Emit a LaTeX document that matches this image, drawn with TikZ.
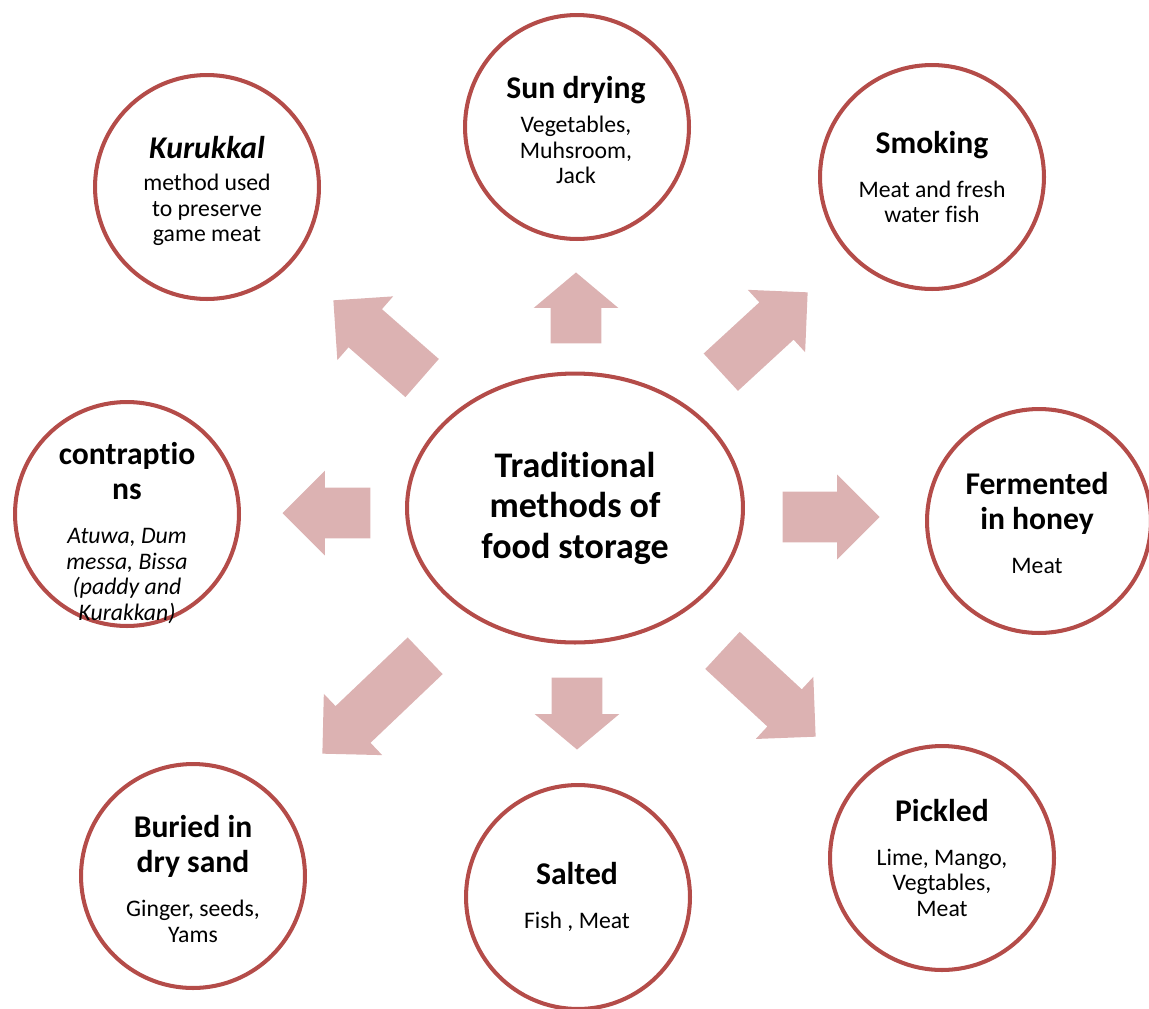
\documentclass[tikz,border=0pt]{standalone}
\usepackage{fontspec}
\setmainfont{Carlito}[Ligatures=NoCommon]
\usetikzlibrary{shapes.geometric,shapes.arrows}
\definecolor{ringred}{RGB}{180,76,73}
\definecolor{arrowpink}{RGB}{220,178,178}
\newcommand{\bodyfont}{\fontsize{13.5}{14.5}\selectfont}
\newcommand{\ttlfont}{\fontsize{18}{20}\selectfont\bfseries}
\newcommand{\ctrfont}{\fontsize{20.5}{23}\selectfont\bfseries}
\setlength{\parindent}{0pt}

\begin{document}
\begin{tikzpicture}[x=0.02cm,y=-0.02cm,
  ring/.style={circle,draw=ringred,line width=2.3pt,minimum size=4.48cm,inner sep=0pt},
  txt/.style={align=flush center,text width=4.4cm,inner sep=0pt,font=\bodyfont},
  blk/.style={single arrow,fill=arrowpink,draw=none,inner xsep=0pt,inner ysep=0.5cm,
    single arrow head extend=0.34cm,single arrow tip angle=90,anchor=tip}]
\useasboundingbox (0,0) rectangle (1149,1008);

% block arrows round the centre
\node[blk,rotate=90,minimum height=1.42cm,single arrow tip angle=100] (a-sun) at (576,272) {};
\node[blk,rotate=-90,minimum height=1.44cm,single arrow tip angle=100] (a-salt) at (577,750) {};
\node[blk,rotate=180,minimum height=1.76cm] (a-cont) at (282,513) {};
\node[blk,rotate=0,minimum height=1.94cm] (a-ferm) at (880,517) {};
\node[blk,rotate=138.8,minimum height=2.36cm] (a-kuru) at (333,300) {};
\node[blk,rotate=42.6,minimum height=2.36cm] (a-smok) at (808,292) {};
\node[blk,rotate=-136.4,minimum height=2.84cm] (a-bur) at (322,754) {};
\node[blk,rotate=-42.8,minimum height=2.54cm] (a-pick) at (816,737) {};

% centre
\node[ellipse,draw=ringred,line width=2.3pt,minimum width=6.72cm,minimum height=5.38cm,
  inner sep=0pt,align=center,font=\ctrfont] (ctr) at (575,508) {Tradit\kern0pt ional\\methods of\\food storage};

% circles
\node[ring] (kuru) at (207,187) {};
\node[ring] (sun) at (577,127) {};
\node[ring] (smok) at (932,177) {};
\node[ring] (cont) at (127,514) {};
\node[ring] (ferm) at (1039,521) {};
\node[ring] (bur) at (193,876) {};
\node[ring] (salt) at (578,897) {};
\node[ring] (pick) at (942,858) {};

% texts
\node[txt] (kuru-t) at (207,191) {{\ttlfont\itshape Kurukkal\par}\vspace{4pt}method used\\to preserve\\game meat};
\node[txt] (sun-t) at (576,130) {{\ttlfont Sun drying\par}\vspace{5pt}Vegetables,\\Muhsroom,\\Jack};
\node[txt] (smok-t) at (932,177) {{\ttlfont Smoking\par}\vspace{10.5pt}Meat and fresh\\water fish};
\node[txt] (cont-t) at (127,533) {{\ttlfont contrapt\kern0pt io\\ns\par}\vspace{10.5pt}\itshape Atuwa, Dum\\messa, Bissa\\(paddy and\\Kurakkan)};
\node[txt] (ferm-t) at (1037,523) {{\ttlfont Fermented\\in honey\par}\vspace{10.5pt}Meat};
\node[txt] (bur-t) at (193,879) {{\ttlfont Buried in\\dry sand\par}\vspace{10.5pt}Ginger, seeds,\\Yams};
\node[txt] (salt-t) at (577,897) {{\ttlfont Salted\par}\vspace{10.5pt}Fish , Meat};
\node[txt] (pick-t) at (942,858) {{\ttlfont Pickled\par}\vspace{10.5pt}Lime, Mango,\\Vegtables,\\Meat};
\end{tikzpicture}
\end{document}
